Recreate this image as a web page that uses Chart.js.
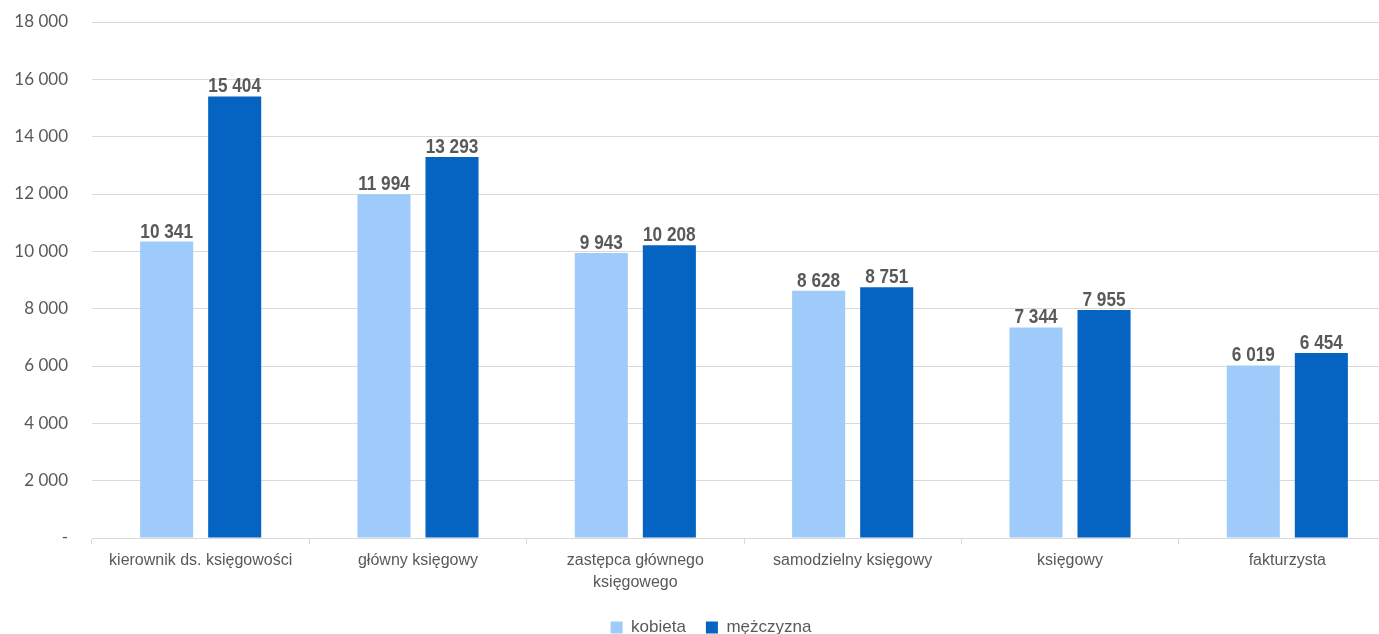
<!DOCTYPE html>
<html lang="pl">
<head>
	<meta charset="UTF-8">
	<meta name="viewport" content="width=device-width, initial-scale=1.0">
	<title>Wynagrodzenia w księgowości</title>
	<script src="https://cdn.jsdelivr.net/npm/chart.js"></script>
	<style>
		html, body { margin: 0; padding: 0; background: #fff; overflow: hidden; }
		#wrap { width: 1422px; height: 634px; }
	</style>
</head>
<body>
<div id="wrap"><canvas id="salaryChart"></canvas></div>
<script>
	const categories = [
		'kierownik ds. księgowości',
		'główny księgowy',
		['zastępca głównego', 'księgowego'],
		'samodzielny księgowy',
		'księgowy',
		'fakturzysta'
	];
	const kobieta = [10341, 11994, 9943, 8628, 7344, 6019];
	const mezczyzna = [15404, 13293, 10208, 8751, 7955, 6454];
	const yTicks = [0, 2000, 4000, 6000, 8000, 10000, 12000, 14000, 16000, 18000];

	const grey = '#595959';
	const gridGrey = '#d9d9d9';

	// 12345 -> "12 345", zero shown as a dash
	function fmt(v) {
		if (v === 0) return '-';
		return String(v).replace(/\B(?=(\d{3})+(?!\d))/g, ' ');
	}

	// value labels above each bar, squeezed horizontally to look like a narrow face
	const barLabels = {
		id: 'barLabels',
		afterDatasetsDraw(chart) {
			const ctx = chart.ctx;
			const squeeze = 0.82;
			ctx.save();
			ctx.font = 'bold 21px "Liberation Sans", Arial, sans-serif';
			ctx.fillStyle = grey;
			ctx.textAlign = 'center';
			ctx.textBaseline = 'alphabetic';
			chart.data.datasets.forEach((ds, i) => {
				chart.getDatasetMeta(i).data.forEach((bar, j) => {
					ctx.save();
					ctx.translate(bar.x, bar.y - 4);
					ctx.scale(squeeze, 1);
					ctx.fillText(fmt(ds.data[j]), 0, 0);
					ctx.restore();
				});
			});
			ctx.restore();
		}
	};

	// nudge the legend a bit to the right
	const legendShift = {
		id: 'legendShift',
		afterLayout(chart) {
			if (!chart.legend) return;
			chart.legend.left += 13;
			chart.legend.right += 13;
		}
	};

	const ctx = document.getElementById('salaryChart').getContext('2d');
	const salaryChart = new Chart(ctx, {
		type: 'bar',
		data: {
			labels: categories,
			datasets: [
				{
					label: 'kobieta',
					data: kobieta,
					backgroundColor: '#9ecbfa',
					categoryPercentage: 0.626,
					barPercentage: 0.78
				},
				{
					label: 'mężczyzna',
					data: mezczyzna,
					backgroundColor: '#0563c1',
					categoryPercentage: 0.626,
					barPercentage: 0.78
				}
			]
		},
		options: {
			responsive: true,
			maintainAspectRatio: false,
			animation: false,
			layout: {
				padding: { top: 22, right: 26, left: 0, bottom: 0 }
			},
			plugins: {
				tooltip: { enabled: false },
				legend: {
					position: 'bottom',
					maxHeight: 35,
					labels: {
						boxWidth: 12,
						boxHeight: 12,
						padding: 20,
						color: grey,
						font: { family: '"Liberation Sans", Arial, sans-serif', size: 17 }
					}
				}
			},
			scales: {
				x: {
					offset: true,
					grid: {
						offset: true,
						drawOnChartArea: false,
						drawTicks: true,
						tickLength: 6,
						color: gridGrey
					},
					border: { color: gridGrey, width: 1 },
					ticks: {
						color: grey,
						padding: 6,
						maxRotation: 0,
						autoSkip: false,
						font: { family: '"Liberation Sans", Arial, sans-serif', size: 16, lineHeight: 1.35 }
					},
					afterFit: s => { s.height = 61; }
				},
				y: {
					min: 0,
					max: 18000,
					afterBuildTicks: s => { s.ticks = yTicks.map(v => ({ value: v })); },
					grid: {
						color: gridGrey,
						drawTicks: true,
						tickLength: 24,
						tickColor: 'rgba(0,0,0,0)'
					},
					border: { display: false },
					ticks: {
						color: grey,
						padding: 0,
						font: { family: 'Lato, "Open Sans", sans-serif', size: 17 },
						callback: v => fmt(v)
					},
					afterFit: s => { s.width = 92; }
				}
			}
		},
		plugins: [barLabels, legendShift]
	});
</script>
</body>
</html>
